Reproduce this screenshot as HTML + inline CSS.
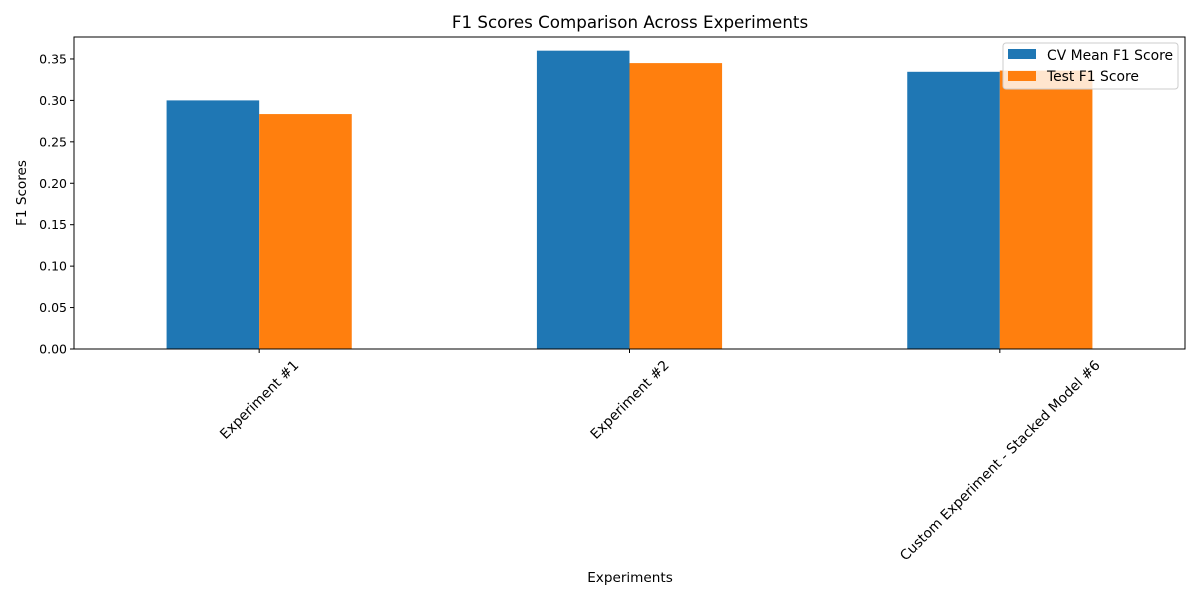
<!DOCTYPE html>
<html><head><meta charset="utf-8"><style>
body{margin:0;background:#fff;}
svg text{font-family:"DejaVu Sans","Liberation Sans",sans-serif;fill:#000;}
</style></head><body>
<svg id="chart" width="1200" height="600" viewBox="0 0 1200 600">
<text x="630" y="28" font-size="16.7" text-anchor="middle">F1 Scores Comparison Across Experiments</text>
<g id="bars"></g>
<g id="yaxis"></g>
<g id="xaxis"></g>
<rect x="74" y="37" width="1111" height="312" fill="none" stroke="#000" stroke-width="1"/>
<text x="630" y="582" font-size="13.6" text-anchor="middle">Experiments</text>
<text transform="translate(26,193) rotate(-90)" font-size="13.6" text-anchor="middle">F1 Scores</text>
<g>
<rect x="1003" y="43" width="175" height="46" rx="3" fill="#fff" fill-opacity="0.8" stroke="#ccc"/>
<rect x="1008" y="49" width="28" height="10" fill="#1f77b4"/>
<text x="1047" y="60" font-size="13.9">CV Mean F1 Score</text>
<rect x="1008" y="71" width="28" height="10" fill="#ff7f0e"/>
<text x="1047" y="81" font-size="13.9">Test F1 Score</text>
</g>
</svg>
<script>
const categories=["Experiment #1","Experiment #2","Custom Experiment - Stacked Model #6"];
const cvScores=[0.300,0.360,0.3345];
const testScores=[0.2835,0.345,0.336];
const yTicks=[0,0.05,0.10,0.15,0.20,0.25,0.30,0.35];
const yTickLabels=["0.00","0.05","0.10","0.15","0.20","0.25","0.30","0.35"];
const NS="http://www.w3.org/2000/svg";
const L=74,R=1185,T=37,B=349,yMax=0.3765;
const xs=i=>L+(i+0.5)*(R-L)/categories.length;
const bw=(R-L)/categories.length*0.25;
const ys=v=>B-v/yMax*(B-T);
function mk(tag,attrs,parent){const e=document.createElementNS(NS,tag);for(const k in attrs)e.setAttribute(k,attrs[k]);parent.appendChild(e);return e;}
const bars=document.getElementById('bars'),ya=document.getElementById('yaxis'),xa=document.getElementById('xaxis');
categories.forEach((c,i)=>{
  const cx=xs(i);
  const b1=mk('rect',{x:cx-bw,y:ys(cvScores[i]),width:bw,height:B-ys(cvScores[i]),fill:'#1f77b4'},bars);
  
  
  const b2=mk('rect',{x:cx,y:ys(testScores[i]),width:bw,height:B-ys(testScores[i]),fill:'#ff7f0e'},bars);
  
  
  const t=mk('line',{x1:cx,x2:cx,y1:B,y2:B+4,stroke:'#000'},xa);
  
  
  const lb=mk('text',{'font-size':13.8,'text-anchor':'middle'},xa);
  lb.textContent=c;
  
  
  const w=lb.getComputedTextLength();
  const cy=357+(w+16)*0.3536;
  lb.setAttribute('transform',`translate(${cx},${cy}) rotate(-45)`);
  lb.setAttribute('dy','4.8');
});
yTicks.forEach((v,i)=>{
  const y=ys(v);
  const t=mk('line',{x1:L-4,x2:L,y1:y,y2:y,stroke:'#000'},ya);
  
  
  const lb=mk('text',{x:L-7,y:y+4.5,'font-size':12.5,'text-anchor':'end'},ya);
  lb.textContent=yTickLabels[i];
  
  
});
</script>
</body></html>
